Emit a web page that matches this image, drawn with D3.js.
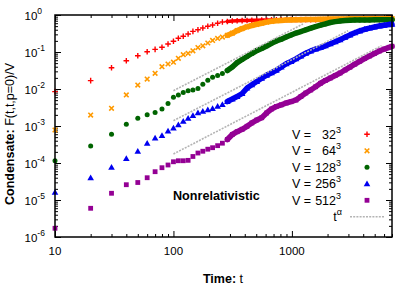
<!DOCTYPE html>
<html>
<head>
<meta charset="utf-8">
<script src="https://cdn.jsdelivr.net/npm/d3@7"></script>
<style>
  body { margin: 0; background: #fff; }
  svg { display: block; font-family: "Liberation Sans", Arial, Helvetica, sans-serif; }
</style>
</head>
<body>
<div id="chart"></div>
<script>
// sample times (shared by every run)
const times = [10, 20, 30, 40, 50, 60, 70, 80, 90, 100,
  110, 121, 133, 146, 161, 177, 195, 214, 236, 259,
  285, 314, 345, 380, 418, 459, 505, 556, 612, 673,
  740, 814, 895, 985, 1083, 1192, 1311, 1442, 1586, 1745,
  1919, 2111, 2323, 2555, 2810, 3091, 3400, 3740, 4114, 4526,
  4979, 5476, 6024, 6626, 7000];

// condensate F(t,t,p=0)/V
const v32 = [0.0085, 0.0168, 0.0377, 0.0582, 0.0794, 0.102, 0.118, 0.134, 0.164, 0.195,
  0.235, 0.266, 0.306, 0.362, 0.401, 0.445, 0.495, 0.537, 0.597, 0.647,
  0.667, 0.689, 0.697, 0.706, 0.71, 0.719, 0.723, 0.733, 0.733, 0.738,
  0.742, 0.746, 0.746, 0.75, 0.75, 0.75, 0.751, 0.751, 0.751, 0.752,
  0.752, 0.752, 0.753, 0.753, 0.753, 0.754, 0.754, 0.754, 0.755, 0.755,
  0.755, 0.755, 0.756, 0.756, 0.756];
const v64 = [7.8e-4, 1.98e-3, 3.0e-3, 6.9e-3, 0.0128, 0.0186, 0.0265, 0.040, 0.0474, 0.053,
  0.0676, 0.0845, 0.0922, 0.108, 0.132, 0.147, 0.175, 0.205, 0.232, 0.254,
  0.283, 0.322, 0.379, 0.429, 0.48, 0.52, 0.561, 0.6, 0.643, 0.676,
  0.701, 0.715, 0.728, 0.737, 0.742, 0.746, 0.751, 0.756, 0.761, 0.765,
  0.77, 0.775, 0.78, 0.785, 0.785, 0.79, 0.79, 0.794, 0.794, 0.799,
  0.799, 0.799, 0.804, 0.804, 0.804];
const v128 = [1.15e-4, 2.88e-4, 5.97e-4, 1.11e-3, 1.61e-3, 2.01e-3, 2.32e-3, 2.88e-3, 4.06e-3, 5.97e-3,
  6.93e-3, 8.04e-3, 8.93e-3, 9.33e-3, 0.0103, 0.0135, 0.0172, 0.0208, 0.023, 0.0261,
  0.0316, 0.0394, 0.0517, 0.0627, 0.0755, 0.091, 0.109, 0.124, 0.145, 0.172,
  0.198, 0.222, 0.254, 0.288, 0.326, 0.358, 0.398, 0.44, 0.486, 0.53,
  0.574, 0.627, 0.663, 0.689, 0.706, 0.719, 0.728, 0.733, 0.738, 0.738,
  0.742, 0.742, 0.742, 0.746, 0.746];
const v256 = [1.61e-5, 4.0e-5, 7.65e-5, 1.32e-4, 2.07e-4, 3.4e-4, 4.74e-4, 5.5e-4, 7.3e-4, 8.8e-4,
  1.08e-3, 1.34e-3, 1.61e-3, 1.92e-3, 2.28e-3, 2.51e-3, 2.74e-3, 2.95e-3, 3.41e-3, 3.81e-3,
  4.59e-3, 5.37e-3, 6.27e-3, 7.55e-3, 0.0106, 0.013, 0.016, 0.0195, 0.0236, 0.0274,
  0.032, 0.0394, 0.0483, 0.0554, 0.0655, 0.078, 0.0928, 0.106, 0.12, 0.132,
  0.147, 0.167, 0.19, 0.216, 0.251, 0.29, 0.33, 0.372, 0.411, 0.443,
  0.474, 0.507, 0.53, 0.551, 0.561];
const v512 = [1.72e-6, 5.97e-6, 1.52e-5, 2.59e-5, 2.97e-5, 4.0e-5, 5.82e-5, 7.46e-5, 8.83e-5, 1.08e-4,
  1.15e-4, 1.15e-4, 1.18e-4, 1.5e-4, 1.86e-4, 2.08e-4, 2.36e-4, 2.59e-4, 2.94e-4, 3.43e-4,
  4.32e-4, 5.89e-4, 7.01e-4, 8.15e-4, 9.82e-4, 1.21e-3, 1.45e-3, 1.67e-3, 2.25e-3, 2.88e-3,
  3.37e-3, 3.74e-3, 4.19e-3, 4.54e-3, 5.04e-3, 6.27e-3, 7.8e-3, 9.4e-3, 0.0115, 0.0143,
  0.017, 0.0198, 0.0232, 0.0271, 0.0326, 0.0388, 0.0468, 0.0561, 0.0667, 0.078,
  0.091, 0.106, 0.12, 0.134, 0.143];

const sides = ["32", "64", "128", "256", "512"];

// t^alpha guide segments (start / end)
const guideT0 = [100, 100, 100];
const guideT1 = [1240, 2985, 5710];
const guideV0 = [9.0e-3, 1.39e-3, 1.75e-4];
const guideV1 = [0.571, 0.376, 0.148];

const xTicks = [10, 100, 1000];
const xTickLabels = ["10", "100", "1000"];
const yTicks = [1, 1e-1, 1e-2, 1e-3, 1e-4, 1e-5, 1e-6];
const yTickExps = ["0", "-1", "-2", "-3", "-4", "-5", "-6"];

const W = 415, H = 291;
const pLeft = 55, pRight = 392, pTop = 15, pBottom = 237;
const colors = ["#ff0000", "#ff9a00", "#006400", "#0000f0", "#940094"];
const shapes = ["plus", "cross", "circle", "triangle", "square"];
const allValues = [v32, v64, v128, v256, v512];

const svg = d3.select("#chart").append("svg").attr("width", W).attr("height", H);

const x = d3.scaleLog().domain([10, 7000]).range([pLeft, pRight]);
const y = d3.scaleLog().domain([1e-6, 1]).range([pBottom, pTop]);

// minor tick positions
const xMinor = [];
[10, 100, 1000].forEach(d => { for (let k = 2; k < 10; k++) if (k * d <= 7000) xMinor.push(k * d); });
const yMinor = [];
yTicks.slice(1).forEach(d => { for (let k = 2; k < 10; k++) yMinor.push(k * d); });

function tickAxis(axis, values, size) {
  return axis.tickValues(values).tickSize(size).tickFormat("");
}

const axes = svg.append("g").attr("class", "axes");
axes.append("g").attr("transform", `translate(0,${pBottom})`).call(tickAxis(d3.axisBottom(x), xTicks, -6));
axes.append("g").attr("transform", `translate(0,${pBottom})`).call(tickAxis(d3.axisBottom(x), xMinor, -3));
axes.append("g").attr("transform", `translate(0,${pTop})`).call(tickAxis(d3.axisTop(x), xTicks, -6));
axes.append("g").attr("transform", `translate(0,${pTop})`).call(tickAxis(d3.axisTop(x), xMinor, -3));
axes.append("g").attr("transform", `translate(${pLeft},0)`).call(tickAxis(d3.axisLeft(y), yTicks, -6));
axes.append("g").attr("transform", `translate(${pLeft},0)`).call(tickAxis(d3.axisLeft(y), yMinor, -3));
axes.append("g").attr("transform", `translate(${pRight},0)`).call(tickAxis(d3.axisRight(y), yTicks, -6));
axes.append("g").attr("transform", `translate(${pRight},0)`).call(tickAxis(d3.axisRight(y), yMinor, -3));
axes.selectAll(".domain").remove();
axes.selectAll(".tick line").attr("stroke", "#000").attr("stroke-width", 1);

// x tick labels
svg.append("g").selectAll("text").data(xTicks).enter().append("text")
  .attr("x", d => x(d)).attr("y", pBottom + 18)
  .attr("text-anchor", "middle").attr("font-size", 11.5)
  .text((d, i) => xTickLabels[i]);

// y tick labels with superscripts
const yl = svg.append("g").selectAll("text").data(yTicks).enter().append("text")
  .attr("x", 24.5).attr("y", d => y(d) + 5).attr("font-size", 11.5);
yl.append("tspan").text("10");
yl.append("tspan").attr("dy", -6).attr("font-size", 8.5).text((d, i) => yTickExps[i]);

// axis titles
const xt = svg.append("text").attr("x", 223).attr("y", 283).attr("text-anchor", "middle").attr("font-size", 12.5);
xt.append("tspan").attr("font-weight", "bold").text("Time:");
xt.append("tspan").text(" t");

const yt = svg.append("text").attr("transform", "translate(14,134) rotate(-90)")
  .attr("text-anchor", "middle").attr("font-size", 12.5);
yt.append("tspan").attr("font-weight", "bold").text("Condensate:");
yt.append("tspan").text(" F(t,t,p=0)/V");

svg.append("text").attr("x", 173).attr("y", 200).attr("font-size", 12.6)
  .attr("font-weight", "bold").text("Nonrelativistic");

// marker drawing
function drawMarker(sel, shape, color) {
  if (shape === "plus") {
    sel.append("path").attr("d", "M-2.8,0H2.8M0,-2.8V2.8").attr("stroke", color).attr("stroke-width", 1.4).attr("fill", "none");
  } else if (shape === "cross") {
    sel.append("path").attr("d", "M-2.3,-2.3L2.3,2.3M-2.3,2.3L2.3,-2.3").attr("stroke", color).attr("stroke-width", 1.6).attr("fill", "none");
  } else if (shape === "circle") {
    sel.append("circle").attr("r", 2.5).attr("fill", color);
  } else if (shape === "triangle") {
    sel.append("path").attr("d", "M0,-3.3L3.3,2.5L-3.3,2.5Z").attr("fill", color);
  } else {
    sel.append("rect").attr("x", -2.4).attr("y", -2.4).attr("width", 4.8).attr("height", 4.8).attr("fill", color);
  }
}

const line = d3.line().x(d => x(d.t)).y(d => y(d.v)).curve(d3.curveLinear);

allValues.forEach((vals, i) => {
  const pts = times.map((t, j) => ({ t: t, v: vals[j] }));
  const g = svg.append("g").attr("class", "series-" + sides[i]);
  // dense tail: markers overlap into a band
  g.append("path").datum(pts.filter(d => d.t >= 285))
    .attr("d", line).attr("fill", "none").attr("stroke", colors[i])
    .attr("stroke-width", i === 0 ? 3.5 : 5.5).attr("stroke-linecap", "round").attr("stroke-linejoin", "round");
  const m = g.selectAll("g").data(pts).enter().append("g")
    .attr("transform", d => `translate(${x(d.t)},${y(d.v)})`);
  drawMarker(m, shapes[i], colors[i]);
});

// t^alpha guides
const guideColor = "#b4b4b4";
guideT0.forEach((t0, i) => {
  svg.append("path")
    .datum([{ t: t0, v: guideV0[i] }, { t: guideT1[i], v: guideV1[i] }])
    .attr("d", line).attr("fill", "none").attr("stroke", guideColor)
    .attr("stroke-width", 1.6).attr("stroke-dasharray", "2,1.2");
});

// legend
const legY0 = 134.3, legStep = 16.5;
const leg = svg.append("g").attr("font-size", 12.5);
sides.forEach((s, i) => {
  const ly = legY0 + i * legStep;
  leg.append("text").attr("x", 292).attr("y", ly + 4.5).text("V =");
  const tx = leg.append("text").attr("x", 341).attr("y", ly + 4.5).attr("text-anchor", "end");
  tx.append("tspan").text(s);
  tx.append("tspan").attr("dy", -6).attr("font-size", 9).text("3");
  const mk = leg.append("g").attr("transform", `translate(367,${ly})`);
  drawMarker(mk, shapes[i], colors[i]);
});
const gy = legY0 + 5 * legStep;
const ta = leg.append("text").attr("x", 342).attr("y", gy + 4.5).attr("text-anchor", "end");
ta.append("tspan").text("t");
ta.append("tspan").attr("dy", -6).attr("font-size", 9).text("α");
leg.append("line").attr("x1", 350).attr("x2", 384).attr("y1", gy).attr("y2", gy)
  .attr("stroke", guideColor).attr("stroke-width", 1.6).attr("stroke-dasharray", "2,1.2");

// frame
svg.append("rect").attr("x", pLeft).attr("y", pTop).attr("width", pRight - pLeft).attr("height", pBottom - pTop)
  .attr("fill", "none").attr("stroke", "#000").attr("stroke-width", 1.5);
</script>
</body>
</html>
